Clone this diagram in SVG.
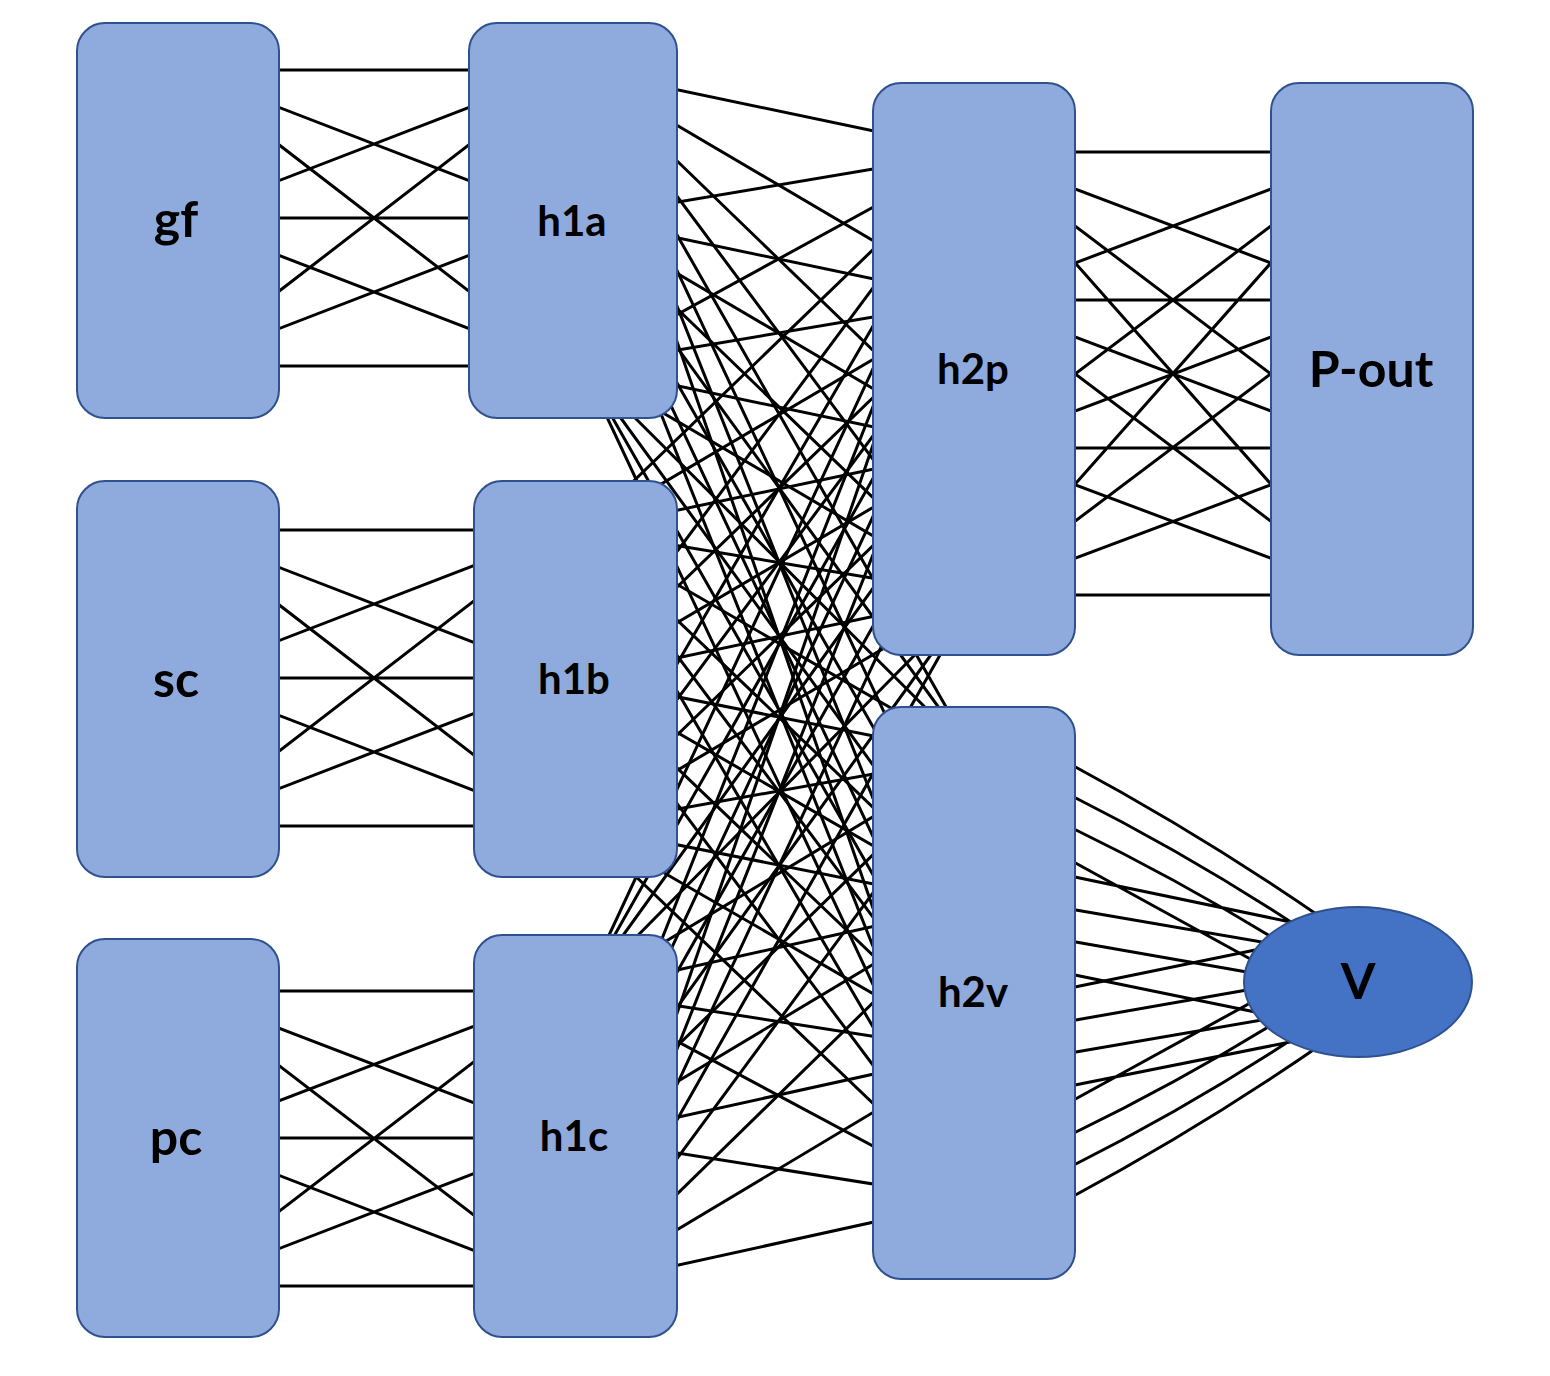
<svg xmlns="http://www.w3.org/2000/svg" width="1550" height="1376" viewBox="0 0 1550 1376">
<style>
.c{stroke:#000;stroke-width:3;fill:none}
.n{fill:#8FAADC;stroke:#2F528F;stroke-width:2}
.v{fill:#4472C4;stroke:#2F528F;stroke-width:2}
.t{font-family:Lato,"Open Sans","Liberation Sans",sans-serif;font-weight:bold;fill:#000;text-anchor:middle}
</style>
<rect width="1550" height="1376" fill="#fff"/>
<g id="connectors" class="c">
<path d="M182 70L566 70M182 70L566 218M182 70L566 366M182 218L566 70M182 218L566 218M182 218L566 366M182 366L566 70M182 366L566 218M182 366L566 366"/>
<path d="M182 530L566 530M182 530L566 678M182 530L566 826M182 678L566 530M182 678L566 678M182 678L566 826M182 826L566 530M182 826L566 678M182 826L566 826"/>
<path d="M182 991L566 991M182 991L566 1138M182 991L566 1286M182 1138L566 991M182 1138L566 1138M182 1138L566 1286M182 1286L566 991M182 1286L566 1138M182 1286L566 1286"/>
<path d="M583 70L974 152M583 70L974 300M583 70L974 448M583 70L974 595M583 70L974 756M583 70L974 904M583 70L974 1052M583 70L974 1200"/>
<path d="M583 218L974 152M583 218L974 300M583 218L974 448M583 218L974 595M583 218L974 756M583 218L974 904M583 218L974 1052M583 218L974 1200"/>
<path d="M583 366L974 152M583 366L974 300M583 366L974 448M583 366L974 595M583 366L974 756M583 366L974 904M583 366L974 1052M583 366L974 1200"/>
<path d="M583 530L974 152M583 530L974 300M583 530L974 448M583 530L974 595M583 530L974 756M583 530L974 904M583 530L974 1052M583 530L974 1200"/>
<path d="M583 678L974 152M583 678L974 300M583 678L974 448M583 678L974 595M583 678L974 756M583 678L974 904M583 678L974 1052M583 678L974 1200"/>
<path d="M583 826L974 152M583 826L974 300M583 826L974 448M583 826L974 595M583 826L974 756M583 826L974 904M583 826L974 1052M583 826L974 1200"/>
<path d="M583 991L974 152M583 991L974 300M583 991L974 448M583 991L974 595M583 991L974 756M583 991L974 904M583 991L974 1052M583 991L974 1200"/>
<path d="M583 1138L974 152M583 1138L974 300M583 1138L974 448M583 1138L974 595M583 1138L974 756M583 1138L974 904M583 1138L974 1052M583 1138L974 1200"/>
<path d="M583 1286L974 152M583 1286L974 300M583 1286L974 448M583 1286L974 595M583 1286L974 756M583 1286L974 904M583 1286L974 1052M583 1286L974 1200"/>
<path d="M977 152L1369 152M977 152L1369 300M977 152L1369 448M977 152L1369 595M977 300L1369 152M977 300L1369 300M977 300L1369 448M977 300L1369 595M977 448L1369 152M977 448L1369 300M977 448L1369 448M977 448L1369 595M977 595L1369 152M977 595L1369 300M977 595L1369 448M977 595L1369 595"/>
<path d="M1070 764Q1202 835 1322 918M1070 795Q1191 856 1300 928M1070 827Q1179 880 1278 941M1070 860L1263 966M1070 876L1300 924M1070 909L1273 944M1070 941L1264 975M1070 974L1265 1014"/>
<path d="M1070 988L1265 948M1070 1021L1264 987M1070 1053L1273 1018M1070 1086L1300 1040M1070 1102L1263 996M1070 1135Q1179 1082 1278 1021M1070 1167Q1191 1106 1300 1034M1070 1198Q1202 1127 1322 1044"/>
</g>
<g id="gf"><rect class="n" x="77" y="23" width="202" height="395" rx="28"/><text class="t" x="176" y="237" font-size="50">gf</text></g>
<g id="sc"><rect class="n" x="77" y="481" width="202" height="396" rx="28"/><text class="t" x="176" y="697" font-size="50">sc</text></g>
<g id="pc"><rect class="n" x="77" y="939" width="202" height="398" rx="28"/><text class="t" x="176" y="1155" font-size="50">pc</text></g>
<g id="h1a"><rect class="n" x="469" y="23" width="208" height="395" rx="28"/><text class="t" x="572" y="236" font-size="42">h1a</text></g>
<g id="h1b"><rect class="n" x="474" y="481" width="203" height="396" rx="28"/><text class="t" x="574" y="694" font-size="42">h1b</text></g>
<g id="h1c"><rect class="n" x="474" y="935" width="203" height="402" rx="28"/><text class="t" x="574" y="1151" font-size="42">h1c</text></g>
<g id="h2p"><rect class="n" x="873" y="83" width="202" height="572" rx="28"/><text class="t" x="973" y="384" font-size="42">h2p</text></g>
<g id="h2v"><rect class="n" x="873" y="707" width="202" height="572" rx="28"/><text class="t" x="973" y="1007" font-size="42">h2v</text></g>
<g id="P-out"><rect class="n" x="1271" y="83" width="202" height="572" rx="28"/><text class="t" x="1371" y="387" font-size="50">P-out</text></g>
<g id="V"><ellipse class="v" cx="1358" cy="982" rx="114" ry="75"/><text class="t" x="1358" y="999" font-size="50">V</text></g>
</svg>
